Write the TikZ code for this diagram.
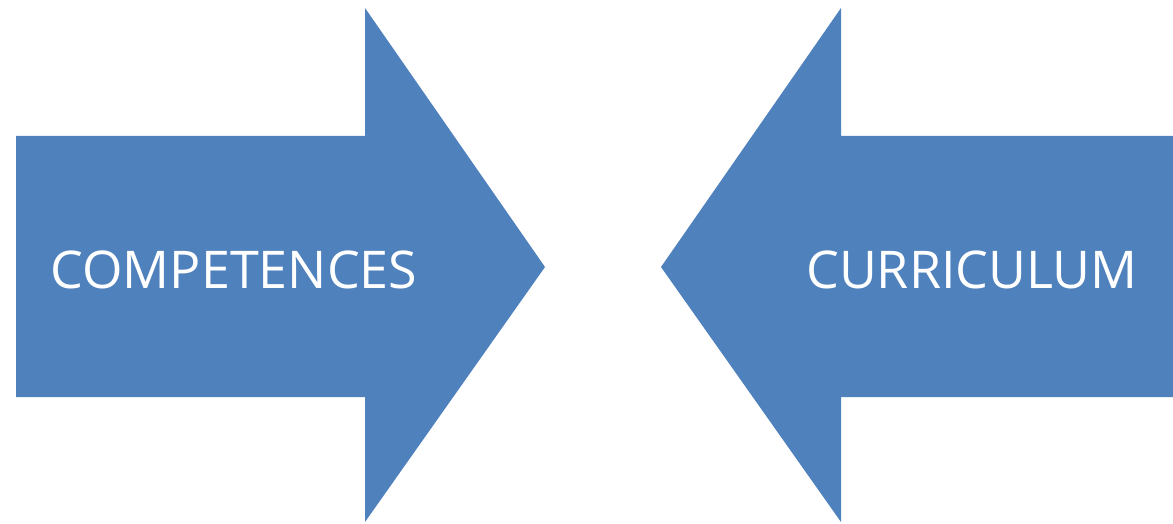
\documentclass[tikz,border=0pt]{standalone}
\usepackage{fontspec}
\setmainfont{Open Sans}
\usepackage{xcolor}
\definecolor{arrowblue}{HTML}{4F81BD}

\begin{document}
\begin{tikzpicture}[x=1pt,y=1pt,
    label/.style={text=white, font=\fontsize{52}{60}\selectfont}]
  \useasboundingbox (0,0) rectangle (1173,523);
  % left arrow
  \fill[arrowblue] (16,387) -- (365,387) -- (365,515) -- (545,256)
    -- (365,1) -- (365,126) -- (16,126) -- cycle;
  % right arrow
  \fill[arrowblue] (1173,387) -- (841,387) -- (841,515) -- (661,256)
    -- (841,1) -- (841,126) -- (1173,126) -- cycle;

  \node[label] (comp) at (234,253) {COMPETENCES};
  \node[label] (curr) at (972,253) {CURRICULUM};
\end{tikzpicture}
\end{document}
